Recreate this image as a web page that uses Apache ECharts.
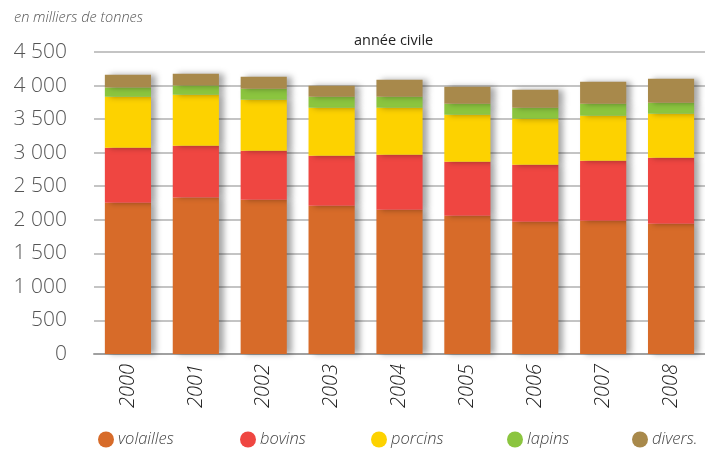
<!DOCTYPE html>
<html>
<head>
<meta charset="utf-8">
<script src="https://cdn.jsdelivr.net/npm/echarts@6/dist/echarts.min.js"></script>
<style>html,body{margin:0;padding:0;background:#fff}#c{width:705px;height:449px}</style>
</head>
<body>
<div id="c"></div>
<script>
var years = ['2000','2001','2002','2003','2004','2005','2006','2007','2008'];
var volailles = [2254, 2333, 2299, 2210, 2150, 2061, 1971, 1985, 1941];
var bovins    = [820, 771, 730, 745, 820, 804, 850, 895, 984];
var porcins   = [760, 760, 760, 715, 700, 701, 685, 671, 655];
var lapins    = [138, 138, 164, 164, 164, 163, 164, 178, 164];
var divers    = [190, 174, 179, 164, 253, 254, 268, 328, 358];
var seriesNames = ['volailles','bovins','porcins','lapins','divers.'];
var seriesColors = ['#D76B29','#EF4641','#FDD200','#8BC53F','#A8894B'];
var yTicks = {min: 0, max: 4500, interval: 500};

var FONT = '"Open Sans", "Liberation Sans", sans-serif';
var chart = echarts.init(document.getElementById('c'));
var dataArr = [volailles, bovins, porcins, lapins, divers];
var legendLefts = [93, 235, 366, 502, 627];

var series = seriesNames.map(function(n, i){
  return {
    name: n, type: 'bar', stack: 'total', data: dataArr[i],
    barCategoryGap: '32%',
    itemStyle: {color: seriesColors[i], shadowColor: 'rgba(0,0,0,0.35)', shadowBlur: 6, shadowOffsetX: 5},
    emphasis: {disabled: true}
  };
});

var legends = seriesNames.map(function(n, i){
  return {
    data: [n], left: legendLefts[i], top: 426, icon: 'circle', itemWidth: 16, itemHeight: 16, itemGap: 0,
    selectedMode: false,
    textStyle: {fontFamily: FONT, fontSize: 16.5, fontStyle: 'italic', fontWeight: 300, color: '#444', padding: [0,0,0,-1]}
  };
});

chart.setOption({
  animation: false,
  grid: {left: 94, right: 0, top: 52, bottom: 95},
  legend: legends,
  graphic: [
    {type: 'text', left: 14, top: 10, style: {text: 'en milliers de tonnes', fontFamily: FONT, fontSize: 14.5, fontStyle: 'italic', fontWeight: 300, fill: '#555'}},
    {type: 'text', left: 354, top: 33, style: {text: 'année civile', fontFamily: FONT, fontSize: 14.5, fill: '#222'}}
  ],
  xAxis: {
    type: 'category', data: years,
    axisLine: {lineStyle: {color: '#a0a0a0', width: 2}},
    axisTick: {show: false},
    axisLabel: {rotate: 90, margin: 10, fontFamily: FONT, fontSize: 20, fontStyle: 'italic', fontWeight: 300, color: '#222'}
  },
  yAxis: {
    type: 'value', min: yTicks.min, max: yTicks.max, interval: yTicks.interval,
    axisLine: {show: false}, axisTick: {show: false},
    splitLine: {lineStyle: {color: '#b0b0b0', width: 1.5}},
    axisLabel: {margin: 27, fontFamily: FONT, fontSize: 21, fontWeight: 300, color: '#555',
      formatter: function(v){ return String(v).replace(/\B(?=(\d{3})+(?!\d))/g, ' '); }}
  },
  series: series
});
</script>
</body>
</html>
